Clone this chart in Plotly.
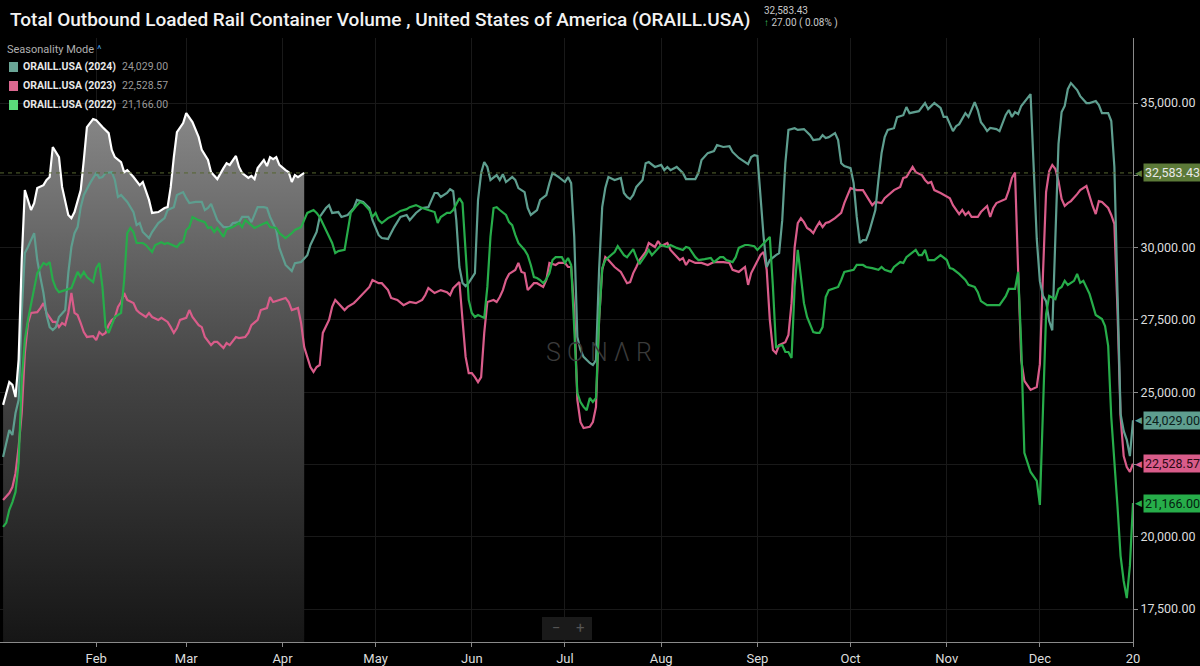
import pandas as pd
import plotly.graph_objects as go

# Seasonality mode: every year is laid over the same Jan..Dec axis (2024 calendar, day offsets)
base = pd.Timestamp("2024-01-01")

# 2025 (current year, white with grey fill)
days_2025 = [1, 2, 3, 4, 5, 6, 7, 8, 10, 11,
             12, 14, 15, 16, 17, 19, 20, 22, 23, 24,
             26, 27, 28, 30, 31, 33, 35, 36, 37, 39,
             40, 41, 43, 45, 46, 48, 49, 51, 53, 54,
             55, 56, 57, 59, 60, 62, 64, 65, 67, 68,
             70, 72, 73, 74, 76, 77, 78, 80, 81, 82,
             83, 85, 86, 87, 88, 89, 90, 92, 93, 94,
             95, 96, 98]
vol_2025 = [24560, 25010, 25350, 25250, 24830, 26120, 29580, 31990, 31300, 31540,
            32060, 32160, 32340, 32440, 33480, 33130, 32100, 31130, 31020, 31230,
            31990, 33030, 34170, 34450, 34410, 34170, 33960, 33380, 33130, 32960,
            32610, 32680, 32440, 32160, 32270, 31650, 31200, 31230, 31370, 31400,
            32100, 33130, 33990, 34310, 34650, 34340, 33820, 33380, 33030, 32610,
            32370, 32750, 32920, 32860, 33170, 32790, 32580, 32410, 32480, 32370,
            32750, 33030, 32820, 33130, 33060, 33130, 32860, 32680, 32610, 32270,
            32510, 32440, 32583.43]

days_2024 = [1, 2, 3, 4, 5, 6, 7, 8, 9, 11,
             12, 13, 14, 15, 16, 17, 18, 19, 20, 21,
             22, 23, 24, 25, 26, 27, 29, 31, 32, 33,
             34, 36, 37, 38, 39, 41, 43, 44, 45, 46,
             48, 49, 51, 53, 54, 56, 57, 59, 60, 61,
             63, 65, 66, 67, 68, 69, 70, 72, 74, 75,
             77, 78, 80, 81, 83, 85, 86, 87, 89, 90,
             92, 94, 95, 97, 99, 100, 102, 103, 105, 106,
             107, 109, 110, 112, 114, 115, 117, 119, 120, 122,
             123, 125, 127, 129, 131, 132, 134, 136, 138, 140,
             141, 142, 144, 145, 146, 147, 148, 149, 150, 151,
             152, 153, 154, 155, 156, 157, 158, 160, 161, 162,
             163, 165, 166, 167, 169, 170, 171, 173, 174, 176,
             177, 178, 180, 182, 183, 184, 185, 186, 187, 188,
             190, 191, 192, 193, 194, 195, 196, 198, 200, 201,
             202, 203, 204, 205, 207, 208, 209, 211, 213, 214,
             215, 216, 218, 220, 221, 224, 225, 226, 228, 230,
             231, 233, 235, 236, 238, 240, 241, 242, 243, 244,
             245, 246, 247, 248, 250, 251, 252, 253, 254, 256,
             257, 259, 261, 262, 264, 265, 266, 267, 269, 270,
             271, 272, 274, 275, 276, 277, 278, 279, 280, 282,
             283, 284, 285, 286, 288, 289, 291, 292, 293, 295,
             296, 298, 299, 301, 303, 304, 305, 307, 308, 309,
             311, 312, 314, 315, 316, 317, 318, 319, 321, 322,
             324, 325, 326, 327, 328, 329, 331, 332, 333, 334,
             335, 336, 337, 338, 339, 340, 341, 342, 343, 344,
             345, 347, 348, 350, 351, 353, 354, 355, 357, 358,
             359, 360, 361, 362, 363, 364, 365]
vol_2024 = [22760, 23240, 23690, 23520, 24280, 24730, 27740, 29810, 30020, 30500,
            29570, 28980, 28430, 27670, 27250, 27150, 27250, 27600, 27740, 27840,
            29120, 30020, 30500, 30710, 31400, 31820, 32230, 32580, 32410, 32440,
            32580, 32610, 32340, 31750, 31820, 31580, 31230, 30780, 30850, 30540,
            30330, 30540, 30850, 31020, 31300, 31400, 31820, 31920, 31710, 31540,
            31580, 31580, 31300, 31370, 31510, 31200, 30950, 30710, 30710, 30850,
            30880, 31060, 31060, 30880, 31400, 31400, 31370, 31060, 30610, 29990,
            29400, 29190, 29460, 29500, 29740, 30090, 30540, 31060, 31370, 31470,
            31200, 31230, 31060, 31130, 31370, 31650, 31580, 31370, 30950, 30430,
            30330, 30300, 30710, 31060, 31130, 30950, 31200, 31370, 31400, 31890,
            31890, 31750, 31890, 32020, 31950, 30950, 29330, 28780, 28670, 28780,
            28950, 29120, 31650, 32580, 32960, 32790, 32340, 32510, 32340, 32540,
            32270, 32440, 32340, 32060, 31920, 31370, 31130, 31300, 31650, 31820,
            32230, 32580, 32440, 32270, 32440, 32230, 30370, 26910, 26460, 26220,
            26010, 25940, 26110, 29230, 31400, 32060, 32440, 32340, 32410, 31890,
            31750, 31680, 31820, 32100, 32340, 32920, 32960, 32790, 32860, 32680,
            32790, 32680, 32790, 32580, 32370, 32370, 32580, 33030, 33270, 33340,
            33550, 33480, 33510, 33310, 33100, 32960, 32890, 33130, 33200, 33170,
            31750, 30370, 29330, 29570, 29740, 29810, 30950, 32920, 34070, 34130,
            34070, 34100, 33890, 33720, 33750, 33890, 33790, 33820, 33960, 33720,
            32920, 32820, 32750, 32230, 31060, 30160, 30260, 30260, 30540, 31300,
            32340, 33270, 33820, 34070, 34130, 34510, 34580, 34860, 34650, 34690,
            34720, 35000, 34790, 35000, 34830, 34520, 34520, 34030, 34200, 34270,
            34650, 34520, 35030, 34760, 34340, 34200, 34030, 34140, 34100, 34030,
            34590, 34760, 34520, 34690, 34620, 34900, 35190, 35310, 32790, 30300,
            28840, 28330, 28150, 27460, 27140, 30300, 33590, 34690, 34900, 35480,
            35690, 35450, 35240, 35000, 35000, 35070, 34930, 34650, 34650, 34380,
            32790, 28460, 24250, 23660, 23350, 22790, 24029.00]

days_2023 = [1, 2, 3, 4, 5, 6, 7, 8, 9, 10,
             12, 13, 14, 15, 17, 18, 19, 20, 21, 22,
             23, 24, 25, 26, 27, 28, 30, 31, 32, 33,
             34, 35, 36, 37, 38, 39, 40, 41, 43, 44,
             45, 47, 48, 49, 51, 52, 54, 55, 56, 57,
             58, 60, 61, 62, 64, 65, 66, 68, 69, 70,
             72, 73, 74, 76, 77, 79, 80, 81, 83, 84,
             86, 87, 88, 90, 92, 93, 94, 96, 97, 98,
             99, 100, 101, 102, 103, 104, 106, 107, 108, 109,
             111, 112, 114, 115, 117, 119, 120, 122, 123, 125,
             126, 128, 130, 132, 134, 136, 137, 138, 140, 142,
             144, 145, 146, 148, 149, 150, 151, 152, 153, 154,
             155, 156, 157, 159, 160, 161, 162, 163, 164, 166,
             167, 168, 169, 170, 172, 173, 175, 176, 177, 179,
             180, 182, 183, 184, 185, 186, 187, 188, 190, 191,
             192, 193, 194, 195, 196, 198, 200, 201, 202, 203,
             204, 205, 206, 208, 209, 211, 212, 213, 215, 216,
             217, 219, 220, 221, 222, 224, 226, 228, 230, 233,
             235, 236, 238, 240, 241, 242, 243, 245, 246, 247,
             248, 249, 250, 251, 253, 254, 255, 256, 257, 258,
             259, 260, 261, 262, 263, 264, 265, 266, 267, 269,
             271, 272, 274, 276, 278, 279, 281, 282, 284, 285,
             287, 288, 290, 291, 292, 294, 295, 297, 298, 299,
             300, 301, 303, 305, 306, 307, 309, 310, 311, 312,
             313, 315, 316, 318, 319, 320, 321, 324, 325, 326,
             327, 328, 329, 330, 332, 334, 335, 336, 337, 338,
             339, 340, 341, 342, 343, 344, 345, 347, 348, 350,
             351, 352, 353, 354, 355, 357, 358, 359, 360, 361,
             362, 363, 364, 365]
vol_2023 = [21270, 21380, 21510, 21720, 22200, 23100, 24280, 26350, 27390, 27740,
            27770, 27910, 28080, 27740, 27430, 27430, 27250, 27390, 27320, 27740,
            28430, 27740, 27670, 27390, 27080, 26910, 26940, 26800, 27080, 26980,
            27050, 27320, 27500, 27570, 27950, 28120, 28430, 28190, 28080, 27840,
            27740, 27600, 27740, 27600, 27500, 27570, 27430, 27250, 27050, 27220,
            27500, 27570, 27840, 27600, 27320, 27250, 26910, 26630, 26740, 26740,
            26530, 26700, 26630, 26910, 26870, 26910, 27050, 27320, 27500, 27840,
            27910, 28290, 28120, 28190, 28260, 28120, 27840, 27910, 27390, 26560,
            26220, 25870, 25700, 25870, 25940, 27050, 27500, 27950, 28190, 28080,
            27840, 27950, 28080, 28190, 28430, 28640, 28880, 28770, 28770, 28530,
            28260, 28190, 28010, 28120, 28080, 28190, 28360, 28600, 28430, 28530,
            28460, 28360, 28600, 28810, 27500, 26220, 25660, 25660, 25520, 25350,
            25520, 27050, 28120, 28190, 28120, 28290, 28530, 28880, 29090, 29230,
            29470, 29160, 29120, 28530, 28770, 28770, 28640, 28880, 29470, 29400,
            29470, 29470, 29330, 29330, 27840, 24730, 23960, 23760, 23800, 23970,
            24490, 27500, 29230, 29670, 29570, 29330, 29160, 28980, 28770, 28810,
            29120, 29330, 29570, 29850, 30160, 30020, 30230, 30060, 30160, 29920,
            29810, 29570, 29640, 29400, 29570, 29470, 29470, 29400, 29500, 29500,
            29470, 29230, 29160, 29330, 28710, 29120, 29330, 29750, 29850, 29230,
            27500, 26460, 26350, 26630, 26730, 26980, 28080, 30020, 30850, 31020,
            30880, 30680, 30610, 30500, 30710, 30880, 30710, 30850, 30880, 31020,
            31200, 31540, 32060, 31990, 31990, 31820, 31470, 31580, 31540, 31710,
            31920, 31990, 32100, 32410, 32440, 32790, 32610, 32510, 32340, 32230,
            32270, 31990, 31890, 31780, 31710, 31470, 31160, 31300, 31130, 31230,
            31060, 31060, 31230, 31440, 31060, 31370, 31540, 31680, 31990, 32410,
            32600, 29190, 26110, 25390, 25080, 25180, 25970, 29090, 31920, 32650,
            32860, 32720, 32300, 31680, 31440, 31540, 31610, 31850, 31990, 32130,
            31750, 31440, 31160, 31610, 31580, 31370, 31130, 30820, 27840, 24140,
            22790, 22410, 22240, 22528.57]

days_2022 = [1, 2, 3, 4, 5, 6, 7, 8, 9, 10,
             11, 12, 14, 15, 16, 17, 18, 19, 21, 23,
             24, 25, 26, 27, 28, 30, 31, 32, 33, 34,
             35, 36, 37, 39, 40, 41, 42, 43, 44, 46,
             47, 49, 50, 52, 53, 54, 56, 57, 58, 59,
             60, 61, 62, 64, 66, 67, 68, 69, 70, 72,
             73, 75, 77, 78, 79, 81, 82, 84, 86, 87,
             89, 90, 92, 94, 95, 97, 98, 99, 101, 102,
             103, 105, 107, 108, 109, 111, 112, 113, 115, 116,
             117, 119, 120, 121, 122, 123, 125, 127, 129, 131,
             132, 134, 136, 138, 140, 141, 142, 144, 145, 146,
             148, 149, 150, 151, 152, 153, 154, 156, 157, 158,
             159, 160, 161, 163, 164, 165, 166, 167, 169, 170,
             171, 172, 173, 174, 175, 176, 177, 178, 179, 181,
             182, 183, 184, 185, 186, 187, 188, 189, 190, 191,
             192, 193, 194, 195, 196, 198, 199, 201, 202, 204,
             205, 206, 208, 209, 210, 212, 213, 215, 216, 218,
             220, 221, 222, 224, 225, 227, 229, 230, 232, 233,
             234, 236, 237, 238, 240, 241, 243, 244, 246, 248,
             249, 250, 251, 252, 253, 254, 255, 256, 257, 258,
             259, 260, 262, 263, 264, 265, 266, 267, 269, 270,
             271, 272, 275, 276, 278, 279, 281, 283, 284, 285,
             287, 288, 290, 291, 292, 294, 295, 296, 297, 298,
             299, 301, 302, 303, 305, 306, 307, 309, 311, 312,
             314, 315, 316, 318, 319, 320, 322, 324, 325, 327,
             328, 329, 330, 332, 334, 335, 336, 337, 338, 340,
             341, 342, 343, 344, 346, 347, 348, 349, 351, 353,
             355, 356, 357, 358, 360, 361, 362, 363, 364, 365]
vol_2022 = [20340, 20480, 20930, 21200, 21550, 22550, 25420, 26800, 27500, 28080,
            28640, 29120, 29470, 29400, 29500, 28880, 28600, 28460, 28530, 28600,
            28880, 29160, 28980, 29160, 28980, 28810, 29290, 29470, 28640, 27250,
            27050, 27320, 27600, 27740, 28880, 30500, 30680, 30540, 30160, 30160,
            30090, 29850, 30090, 30190, 30120, 30160, 30050, 30020, 30160, 30190,
            30610, 30710, 31060, 30950, 30880, 30680, 30710, 30540, 30680, 30370,
            30640, 30710, 30850, 30710, 30950, 30780, 30680, 30780, 30880, 30710,
            30680, 30500, 30330, 30500, 30610, 30710, 30950, 31200, 31300, 31200,
            31060, 30610, 30160, 29810, 29880, 29920, 30500, 31200, 31470, 31580,
            31540, 31300, 31060, 31200, 30950, 30850, 31020, 31130, 31270, 31330,
            31400, 31470, 31370, 31300, 31230, 30850, 31060, 31200, 31200, 31300,
            31710, 31540, 29810, 28190, 27740, 27600, 27670, 27570, 28640, 30370,
            31370, 31400, 31300, 31130, 30880, 30780, 30440, 30160, 29920, 29740,
            29400, 28980, 28950, 28880, 28770, 28910, 29120, 29570, 29670, 29670,
            29470, 29640, 29400, 27250, 24970, 24660, 24490, 24380, 24800, 24660,
            24800, 27500, 29290, 29570, 29670, 29850, 30050, 29740, 29670, 29950,
            29670, 29430, 29740, 29920, 29740, 29990, 30090, 30020, 30090, 29990,
            29920, 30020, 29990, 29670, 29570, 29600, 29640, 29500, 29670, 29670,
            29570, 29500, 29670, 29990, 30090, 30090, 30050, 29920, 30160, 30370,
            28640, 26560, 26600, 26630, 26390, 26390, 26180, 28640, 29920, 28980,
            28080, 27600, 27080, 27050, 27050, 27250, 28290, 28530, 28600, 28640,
            28880, 29160, 29230, 29400, 29400, 29330, 29290, 29230, 29330, 29230,
            29160, 29330, 29500, 29470, 29670, 29850, 29920, 29740, 29740, 29920,
            29570, 29570, 29640, 29740, 29570, 29290, 29260, 29090, 28880, 28710,
            28640, 28460, 28150, 28010, 28010, 28010, 28010, 28320, 28570, 28570,
            29160, 26600, 22900, 22240, 21930, 21100, 24140, 27700, 28330, 28220,
            28570, 28640, 28850, 28710, 28850, 29090, 28780, 28850, 28400, 27670,
            27530, 27290, 26600, 24140, 21060, 19340, 18470, 17880, 19000, 21166.00]

last_change = 27.00  # day-over-day change shown in the header

y_ticks = [17500, 20000, 22500, 25000, 27500, 30000, 32500, 35000]
y_text = ["17,500.00", "20,000.00", "", "25,000.00", "27,500.00", "30,000.00", "", "35,000.00"]
month_ticks = ["2024-02-01", "2024-03-01", "2024-04-01", "2024-05-01", "2024-06-01", "2024-07-01",
               "2024-08-01", "2024-09-01", "2024-10-01", "2024-11-01", "2024-12-01", "2024-12-31"]
month_text = ["Feb", "Mar", "Apr", "May", "Jun", "Jul", "Aug", "Sep", "Oct", "Nov", "Dec", "20"]

for d, v in [(days_2025, vol_2025), (days_2024, vol_2024), (days_2023, vol_2023), (days_2022, vol_2022)]:
    assert len(d) == len(v), (len(d), len(v))


def to_dates(days):
    return [base + pd.Timedelta(days=int(d)) for d in days]


# pixel helpers for the furniture around the plot (plot area = 1133 x 604 px, top at 38 px)
PW, PH, TOP = 1133, 604, 38
def px(x):
    return x / PW
def py(y):
    return (TOP + PH - y) / PH


FONT = "Roboto"
fig = go.Figure()

# grey gradient area under the current year
fig.add_trace(go.Scatter(
    x=to_dates(days_2025), y=vol_2025, mode="lines", line=dict(width=0),
    fill="tozeroy",
    fillgradient=dict(type="vertical", start=16400, stop=34700,
                      colorscale=[[0, "rgb(22,22,22)"], [0.5, "rgb(68,68,68)"], [1, "rgb(135,135,135)"]]),
    showlegend=False, hoverinfo="skip"))

# name, days, values, line colour, swatch colour, label text colour
series = [
    ("ORAILL.USA (2023)", days_2023, vol_2023, "#d95c8a", "#dc6890", "#2a0812"),
    ("ORAILL.USA (2024)", days_2024, vol_2024, "#5e9e8f", "#6aa596", "#0b201b"),
    ("ORAILL.USA (2022)", days_2022, vol_2022, "#27ad4a", "#5ad97a", "#052010"),
]
for name, d, v, col, _, _ in series:
    fig.add_trace(go.Scatter(x=to_dates(d), y=v, mode="lines", name=name,
                             line=dict(color=col, width=2.2), showlegend=False))

fig.add_trace(go.Scatter(x=to_dates(days_2025), y=vol_2025, mode="lines", name="2025",
                         line=dict(color="#ffffff", width=2.2), showlegend=False))

# dashed line at the latest value
fig.add_hline(y=vol_2025[-1], line=dict(color="#56662f", width=1, dash="4px,4px"))

ann = []
shapes = []

# title bar
shapes.append(dict(type="rect", xref="paper", yref="paper", x0=px(0), x1=px(1200),
                   y0=py(38), y1=py(0), fillcolor="#1e1e1e", line=dict(width=0), layer="below"))
ann.append(dict(x=px(8), y=py(19), xref="paper", yref="paper", xanchor="left", yanchor="middle",
                showarrow=False,
                text="Total Outbound Loaded Rail Container Volume , United States of America (ORAILL.USA)",
                font=dict(family=FONT, size=19, color="#f2f2f2", weight=500)))
pct = last_change / (vol_2025[-1] - last_change) * 100
ann.append(dict(x=px(762), y=py(11), xref="paper", yref="paper", xanchor="left", yanchor="middle",
                showarrow=False, text=f"{vol_2025[-1]:,.2f}",
                font=dict(family=FONT, size=10, color="#c8c8c8")))
ann.append(dict(x=px(762), y=py(23), xref="paper", yref="paper", xanchor="left", yanchor="middle",
                showarrow=False,
                text=f"<span style='color:#3fc060'>↑</span> {last_change:.2f} ( {pct:.2f}% )",
                font=dict(family=FONT, size=10, color="#c8c8c8")))

# seasonality legend (top-left)
ann.append(dict(x=px(5), y=py(49), xref="paper", yref="paper", xanchor="left", yanchor="middle",
                showarrow=False, text="Seasonality Mode <span style='color:#3d8fd6'>^</span>",
                font=dict(family=FONT, size=11, color="#b0b0b0")))
legend_order = [series[1], series[0], series[2]]
for i, (name, d, v, col, sw, _) in enumerate(legend_order):
    yc = 67 + i * 19
    shapes.append(dict(type="rect", xref="paper", yref="paper", x0=px(9), x1=px(18),
                       y0=py(yc + 5), y1=py(yc - 5), fillcolor=sw, line=dict(width=0)))
    ann.append(dict(x=px(21), y=py(yc), xref="paper", yref="paper", xanchor="left", yanchor="middle",
                    showarrow=False, text=f"<b>{name}</b>",
                    font=dict(family=FONT, size=10.5, color="#e8e8e8")))
    ann.append(dict(x=px(120), y=py(yc), xref="paper", yref="paper", xanchor="left", yanchor="middle",
                    showarrow=False, text=f"{v[-1]:,.2f}",
                    font=dict(family=FONT, size=10.5, color="#9a9a9a")))

# last-value flags on the right axis
flags = [(vol_2025[-1], "#5c7a38", "#e8e8e8")] + [(v[-1], col, txt) for _, _, v, col, _, txt in series]
for val, bg, fg in flags:
    ann.append(dict(x=px(1143), y=val, xref="paper", yref="y", xanchor="left", yanchor="middle",
                    showarrow=False, text=f"{val:,.2f}", bgcolor=bg, borderpad=1,
                    font=dict(family=FONT, size=12.5, color=fg)))
    ann.append(dict(x=px(1144), y=val, xref="paper", yref="y", xanchor="right", yanchor="middle",
                    showarrow=False, text="◀", font=dict(family="DejaVu Sans", size=9, color=bg)))

# watermark and zoom control
ann.append(dict(x=px(599), y=py(352), xref="paper", yref="paper", xanchor="center", yanchor="middle",
                showarrow=False, text="S O N Λ R",
                font=dict(family=FONT, size=25, color="#3a3a3a", weight=300)))
shapes.append(dict(type="rect", xref="paper", yref="paper", x0=px(542), x1=px(592),
                   y0=py(640), y1=py(617), fillcolor="#1a1a1a", line=dict(width=0)))
ann.append(dict(x=px(556), y=py(628), xref="paper", yref="paper", xanchor="center", yanchor="middle",
                showarrow=False, text="−", font=dict(family=FONT, size=15, color="#555555")))
ann.append(dict(x=px(580), y=py(628), xref="paper", yref="paper", xanchor="center", yanchor="middle",
                showarrow=False, text="+", font=dict(family=FONT, size=15, color="#555555")))

fig.update_layout(
    width=1200, height=666,
    margin=dict(l=0, r=67, t=38, b=24),
    paper_bgcolor="#000000", plot_bgcolor="#000000",
    font=dict(family=FONT, color="#dddddd"),
    annotations=ann, shapes=shapes,
    xaxis=dict(type="date", range=[base, base + pd.Timedelta(days=365)],
               tickvals=month_ticks, ticktext=month_text,
               showgrid=True, gridcolor="#191919", gridwidth=1,
               showline=True, linecolor="#8a8a8a", linewidth=1,
               ticks="outside", ticklen=4, tickcolor="#8a8a8a",
               tickfont=dict(family=FONT, size=13, color="#dddddd"), zeroline=False),
    yaxis=dict(side="right", range=[16360, 37250], tickvals=y_ticks, ticktext=y_text,
               showgrid=True, gridcolor="#191919", gridwidth=1,
               showline=True, linecolor="#8a8a8a", linewidth=1,
               ticks="outside", ticklen=4, tickcolor="#8a8a8a",
               tickfont=dict(family=FONT, size=12.5, color="#dddddd"), zeroline=False),
)

# the page's default 8px body margin would shift the chart
fig.write_html("out.html", config={"displayModeBar": False},
               post_script="document.body.style.margin='0';document.body.style.background='#000';")
